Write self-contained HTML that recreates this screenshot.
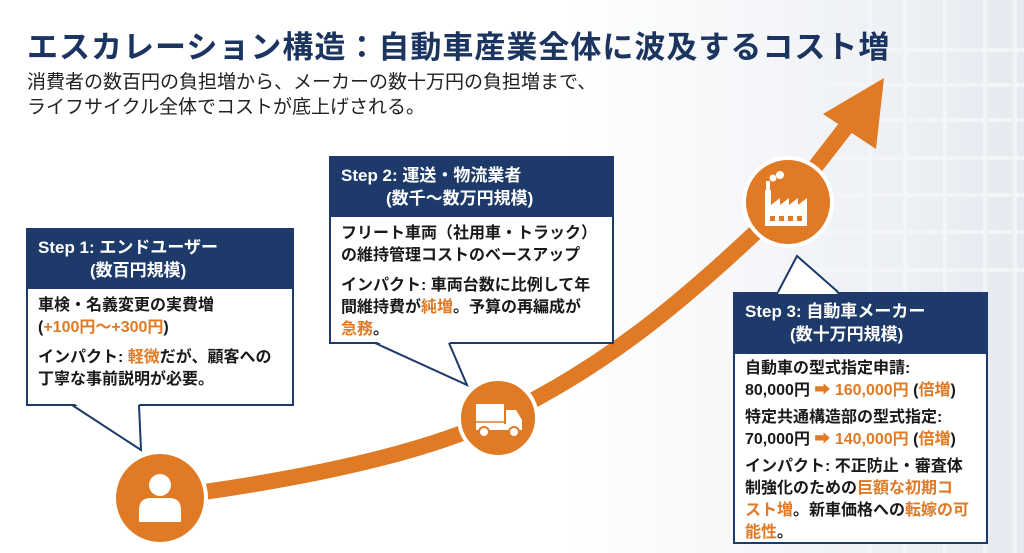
<!DOCTYPE html>
<html><head><meta charset="utf-8"><style>
*{margin:0;padding:0;box-sizing:border-box}
body{width:1024px;height:553px;overflow:hidden;background:#fff;position:relative;font-family:"Liberation Sans","Noto Sans CJK JP",sans-serif}
.t{position:absolute;white-space:nowrap}
.box{position:absolute;border:2px solid #1d3a6a;background:#fff}
.hd{background:#1d3a6a;color:#fff;font-weight:bold;font-size:17px;line-height:23px;padding:6px 0 0 10px}
.bd{font-weight:bold;font-size:16px;line-height:22px;color:#1a1a1a;padding:6px 0 0 10px}
.o{color:#e07a24}
.gap{height:8px}
</style></head><body>
<svg width="1024" height="553" style="position:absolute;left:0;top:0">
<defs><linearGradient id="g" x1="0" x2="1"><stop offset="0" stop-color="#fff"/><stop offset="0.55" stop-color="#fff"/><stop offset="1" stop-color="#e6eaf0"/></linearGradient></defs>
<rect width="1024" height="553" fill="url(#g)"/>
<g stroke="#f4f6f9" stroke-width="4" opacity="0.9">
<line x1="870" y1="0" x2="870" y2="553"/><line x1="905" y1="0" x2="905" y2="553"/><line x1="945" y1="0" x2="945" y2="553"/><line x1="985" y1="0" x2="985" y2="553"/><line x1="1015" y1="0" x2="1015" y2="553"/>
<line x1="760" y1="50" x2="1024" y2="50"/><line x1="760" y1="85" x2="1024" y2="85"/><line x1="760" y1="120" x2="1024" y2="120"/><line x1="760" y1="158" x2="1024" y2="158"/><line x1="760" y1="195" x2="1024" y2="195"/><line x1="760" y1="232" x2="1024" y2="232"/><line x1="760" y1="270" x2="1024" y2="270"/>
</g>
<path d="M160 498 C300 480 420 455 498 418 C620 360 700 285 788 202 L850 122" fill="none" stroke="#e07a24" stroke-width="16"/>
<polygon points="884,78 823,114 876,149" fill="#e07a24"/>
<circle cx="160" cy="498" r="46" fill="#e07a24" stroke="#fff" stroke-width="4"/>
<circle cx="498" cy="418" r="39" fill="#e07a24" stroke="#fff" stroke-width="4"/>
<circle cx="788" cy="202" r="44" fill="#e07a24" stroke="#fff" stroke-width="4"/>
<circle cx="160" cy="485" r="11" fill="#fff"/>
<path d="M139 522 L139 510 Q139 498 151 498 L169 498 Q181 498 181 510 L181 522 Z" fill="#fff"/>
<rect x="476" y="404" width="28" height="22" fill="#fff"/>
<path d="M506 410 L516 410 L522 420 L522 430 L506 430 Z" fill="#fff"/>
<rect x="476" y="424" width="46" height="6" fill="#fff"/>
<line x1="476" y1="422" x2="504" y2="422" stroke="#e07a24" stroke-width="1.5"/>
<circle cx="484" cy="432" r="5" fill="#fff" stroke="#e07a24" stroke-width="2"/>
<circle cx="514" cy="432" r="5" fill="#fff" stroke="#e07a24" stroke-width="2"/>
<path d="M765 226 L765 190 L771 190 L771 205 L780 198 L780 205 L789 198 L789 205 L798 198 L798 205 L807 198 L807 226 Z" fill="#fff"/>
<rect x="766" y="181" width="4" height="9" fill="#fff"/>
<circle cx="773" cy="178" r="3.5" fill="#fff"/><circle cx="780" cy="175" r="4" fill="#fff"/>
<g fill="#e07a24"><rect x="770" y="216" width="5" height="5"/><rect x="779" y="216" width="5" height="5"/><rect x="788" y="216" width="5" height="5"/><rect x="797" y="216" width="5" height="5"/></g>
</svg>
<div class="t" style="left:27px;top:22px;font-size:31px;font-weight:bold;color:#1c3460;letter-spacing:1px">エスカレーション構造：自動車産業全体に波及するコスト増</div>
<div class="t" style="left:27px;top:70px;font-size:19px;line-height:25px;color:#222">消費者の数百円の負担増から、メーカーの数十万円の負担増まで、<br>ライフサイクル全体でコストが底上げされる。</div>

<div class="box" style="left:26px;top:228px;width:268px;height:178px">
<div class="hd" style="height:59px">Step 1: エンドユーザー<br><span style="padding-left:52px">(数百円規模)</span></div>
<div class="bd">車検・名義変更の実費増<br>(<span class="o">+100円〜+300円</span>)<div class="gap"></div>インパクト: <span class="o">軽微</span>だが、顧客への<br>丁寧な事前説明が必要。</div>
</div>
<div class="box" style="left:329px;top:156px;width:285px;height:188px">
<div class="hd" style="height:59px">Step 2: 運送・物流業者<br><span style="padding-left:45px">(数千〜数万円規模)</span></div>
<div class="bd">フリート車両（社用車・トラック）<br>の維持管理コストのベースアップ<div class="gap"></div>インパクト: 車両台数に比例して年<br>間維持費が<span class="o">純増</span>。予算の再編成が<br><span class="o">急務</span>。</div>
</div>
<div class="box" style="left:733px;top:292px;width:255px;height:252px">
<div class="hd" style="height:60px">Step 3: 自動車メーカー<br><span style="padding-left:45px">(数十万円規模)</span></div>
<div class="bd" style="line-height:22px;padding-top:4px">自動車の型式指定申請:<br>80,000円 <span class="o">➡ 160,000円</span> (<span class="o">倍増</span>)<div style="height:5px"></div>特定共通構造部の型式指定:<br>70,000円 <span class="o">➡ 140,000円</span> (<span class="o">倍増</span>)<div style="height:5px"></div>インパクト: 不正防止・審査体<br>制強化のための<span class="o">巨額な初期コ</span><br><span class="o">スト増</span>。新車価格への<span class="o">転嫁の可</span><br><span class="o">能性</span>。</div>
</div>
<svg width="1024" height="553" style="position:absolute;left:0;top:0">
<polygon points="72,402 139,402 141,450" fill="#fff"/>
<polyline points="72,405 141,450 139,405" fill="none" stroke="#1d3a6a" stroke-width="2"/>
<polygon points="375,341 449,341 467,385" fill="#fff"/>
<polyline points="375,343 467,385 449,343" fill="none" stroke="#1d3a6a" stroke-width="2"/>
<polygon points="778,294 838,294 797,256" fill="#fff"/>
<polyline points="778,292 797,256 838,292" fill="none" stroke="#1d3a6a" stroke-width="2"/>
</svg>
</body></html>
